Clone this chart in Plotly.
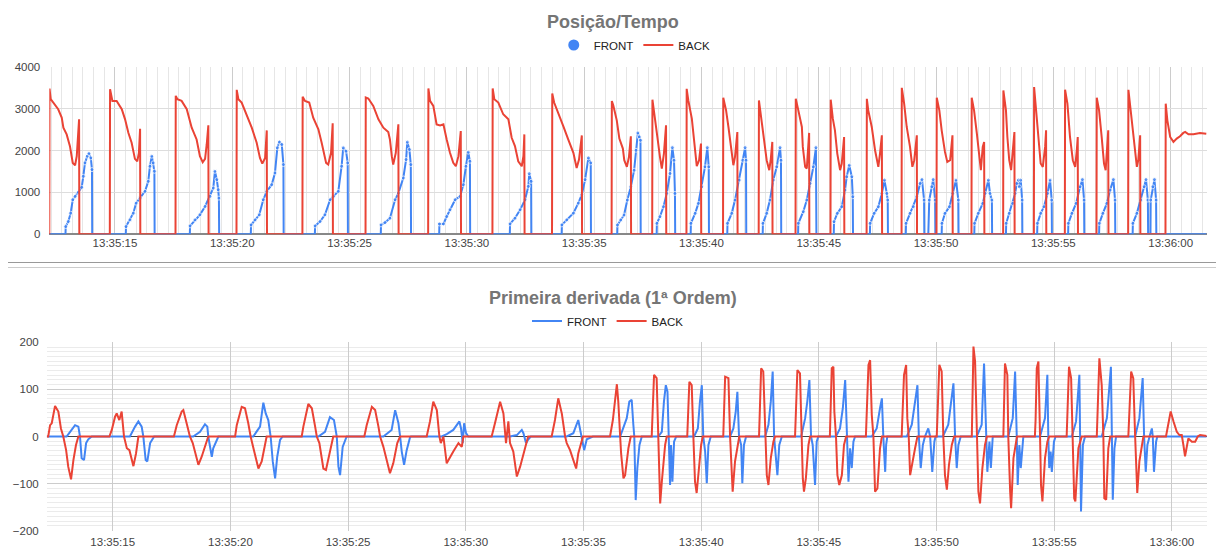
import plotly.graph_objects as go
import pandas as pd

# ---------------- data (seconds after 13:35:00, value) ----------------
BACK_POS = [
    (12.20, 0), (12.21, 3480), (12.26, 3224), (12.37, 3144), (12.58, 2984), (12.73, 2784), (12.80, 2544), (12.94, 2384), (13.08, 2104), (13.20, 1704), (13.30, 1648), (13.37, 1864), (13.41, 2264), (13.47, 2744), (13.48, 0),
    (14.78, 0), (14.79, 3464), (14.89, 3184), (15.07, 3184), (15.29, 2984), (15.43, 2744), (15.57, 2424), (15.71, 2184), (15.85, 1800), (15.95, 1744), (16.02, 1944), (16.07, 2520), (16.08, 0),
    (17.58, 0), (17.59, 3304), (17.66, 3224), (17.84, 3184), (18.06, 2984), (18.27, 2544), (18.48, 2264), (18.62, 1864), (18.74, 1720), (18.84, 1800), (18.91, 2144), (18.98, 2600), (18.99, 0),
    (20.18, 0), (20.19, 3448), (20.26, 3224), (20.40, 3144), (20.62, 2824), (20.83, 2544), (21.04, 2184), (21.18, 1824), (21.28, 1688), (21.40, 1824), (21.47, 2480), (21.48, 0),
    (22.99, 0), (23.00, 3280), (23.10, 3184), (23.28, 3144), (23.45, 2784), (23.67, 2504), (23.81, 2184), (24.00, 1704), (24.09, 1664), (24.21, 1944), (24.28, 2648), (24.29, 0),
    (25.68, 0), (25.69, 3264), (25.80, 3240), (26.01, 3064), (26.23, 2744), (26.44, 2544), (26.65, 2440), (26.72, 2264), (26.80, 1864), (26.86, 1664), (26.97, 1944), (27.01, 2184), (27.08, 2624), (27.09, 0),
    (28.35, 0), (28.36, 3480), (28.43, 3184), (28.57, 3064), (28.71, 2624), (28.86, 2600), (29.00, 2624), (29.14, 2264), (29.28, 1944), (29.42, 1704), (29.53, 1624), (29.64, 1864), (29.74, 2464), (29.75, 0),
    (31.09, 0), (31.10, 3480), (31.17, 3224), (31.34, 3144), (31.55, 2864), (31.77, 2744), (31.91, 2304), (32.05, 2104), (32.19, 1744), (32.34, 1624), (32.41, 1864), (32.45, 2384), (32.46, 0),
    (33.63, 0), (33.64, 3360), (33.72, 3144), (33.90, 2904), (34.11, 2584), (34.32, 2264), (34.54, 1944), (34.68, 1584), (34.78, 1784), (34.90, 2360), (34.91, 0),
    (36.17, 0), (36.18, 3180), (36.24, 3077), (36.39, 2720), (36.50, 2284), (36.65, 2046), (36.71, 1768), (36.82, 1610), (36.91, 1848), (36.99, 2339), (37.00, 0),
    (37.90, 0), (37.91, 3212), (38.02, 2799), (38.12, 2323), (38.23, 1848), (38.31, 1570), (38.40, 1927), (38.49, 2601), (38.50, 0),
    (39.36, 0), (39.37, 3473), (39.44, 3196), (39.59, 2760), (39.68, 2244), (39.80, 1626), (39.90, 1768), (39.98, 2165), (39.99, 0),
    (40.92, 0), (40.93, 3259), (41.05, 2958), (41.15, 2561), (41.26, 2086), (41.36, 1649), (41.43, 1848), (41.53, 2442), (41.54, 0),
    (42.44, 0), (42.45, 3196), (42.54, 2799), (42.67, 2244), (42.78, 1768), (42.89, 1530), (42.95, 1768), (43.02, 2205), (43.03, 0),
    (44.01, 0), (44.02, 3235), (44.13, 2958), (44.28, 2561), (44.32, 2086), (44.42, 1610), (44.49, 1570), (44.56, 2244), (44.59, 2419), (44.60, 0),
    (45.50, 0), (45.51, 3212), (45.60, 2760), (45.69, 2482), (45.79, 1927), (45.91, 1530), (45.98, 1689), (46.08, 2323), (46.09, 0),
    (47.04, 0), (47.05, 3235), (47.11, 2958), (47.26, 2561), (47.40, 2006), (47.47, 1768), (47.54, 1610), (47.61, 1927), (47.69, 2363), (47.70, 0),
    (48.53, 0), (48.54, 3497), (48.64, 3117), (48.75, 2561), (48.89, 2086), (48.99, 1610), (49.07, 1768), (49.18, 2363), (49.19, 0),
    (50.02, 0), (50.03, 3259), (50.14, 2958), (50.24, 2482), (50.38, 1967), (50.48, 1729), (50.60, 1768), (50.70, 2363), (50.71, 0),
    (51.51, 0), (51.52, 3259), (51.62, 2958), (51.74, 2403), (51.83, 1848), (51.91, 1530), (51.99, 2086), (52.05, 2205), (52.06, 0),
    (52.86, 0), (52.87, 3434), (52.98, 2958), (53.04, 2323), (53.12, 1768), (53.20, 1530), (53.27, 1927), (53.34, 2442), (53.35, 0),
    (54.17, 0), (54.18, 3513), (54.26, 2958), (54.36, 2244), (54.46, 1689), (54.55, 1610), (54.65, 2086), (54.69, 2482), (54.70, 0),
    (55.49, 0), (55.50, 3450), (55.60, 3117), (55.71, 2323), (55.83, 1768), (55.93, 1610), (56.00, 2006), (56.04, 2323), (56.05, 0),
    (56.84, 0), (56.85, 3259), (56.95, 2958), (57.06, 2323), (57.16, 1689), (57.23, 1530), (57.30, 2086), (57.34, 2482), (57.35, 0),
    (58.19, 0), (58.20, 3450), (58.30, 2958), (58.41, 2482), (58.48, 2006), (58.56, 1610), (58.62, 1768), (58.70, 2363), (58.71, 0),
    (59.78, 0), (59.79, 3117), (59.86, 2720), (59.98, 2323), (60.12, 2205), (60.26, 2284), (60.40, 2339), (60.54, 2419), (60.62, 2442), (60.76, 2387), (60.97, 2387), (61.25, 2419), (61.47, 2403), (61.52, 2400),
]

FRONT_POS = [
    (12.20, 0), (12.89, 0), (12.90, 184), (13.01, 304), (13.11, 504), (13.20, 824), (13.30, 904), (13.44, 1000), (13.58, 1120), (13.65, 1384), (13.72, 1704), (13.82, 1864), (13.89, 1928), (13.97, 1824), (14.02, 1544), (14.03, 0),
    (15.46, 0), (15.47, 184), (15.64, 344), (15.78, 504), (15.90, 744), (16.07, 864), (16.28, 1024), (16.42, 1264), (16.49, 1624), (16.57, 1864), (16.63, 1704), (16.68, 1504), (16.69, 0),
    (18.19, 0), (18.20, 200), (18.41, 344), (18.62, 464), (18.84, 664), (19.05, 904), (19.19, 1104), (19.26, 1504), (19.34, 1304), (19.40, 1064), (19.43, 864), (19.44, 0),
    (20.79, 0), (20.80, 224), (20.97, 344), (21.15, 464), (21.32, 824), (21.47, 1024), (21.68, 1184), (21.82, 1464), (21.92, 2064), (22.01, 2200), (22.11, 2144), (22.18, 1664), (22.19, 0),
    (23.52, 0), (23.53, 200), (23.74, 304), (23.95, 464), (24.17, 824), (24.31, 904), (24.52, 1024), (24.66, 1624), (24.73, 2064), (24.85, 1984), (24.92, 1704), (24.93, 0),
    (26.33, 0), (26.34, 224), (26.51, 280), (26.72, 384), (26.94, 824), (27.08, 984), (27.29, 1344), (27.41, 1784), (27.46, 2200), (27.55, 2024), (27.61, 1664), (27.62, 0),
    (28.82, 0), (28.83, 248), (29.00, 248), (29.14, 424), (29.28, 584), (29.50, 824), (29.71, 904), (29.85, 1184), (29.96, 1624), (30.06, 1960), (30.13, 1744), (30.14, 0),
    (31.83, 0), (31.84, 248), (32.05, 384), (32.27, 584), (32.48, 824), (32.62, 1144), (32.66, 1448), (32.74, 1264), (32.75, 0),
    (34.04, 0), (34.05, 224), (34.26, 344), (34.54, 504), (34.75, 744), (34.90, 944), (35.04, 1304), (35.18, 1824), (35.28, 1704), (35.29, 0),
    (36.41, 0), (36.42, 222), (36.56, 341), (36.70, 460), (36.84, 817), (36.99, 1134), (37.13, 1530), (37.21, 2006), (37.29, 2419), (37.35, 2323), (37.40, 2244), (37.41, 0),
    (38.09, 0), (38.10, 262), (38.23, 420), (38.38, 658), (38.52, 975), (38.66, 1451), (38.76, 2070), (38.83, 1768), (38.87, 975), (38.88, 0),
    (39.54, 0), (39.55, 262), (39.73, 500), (39.87, 737), (40.01, 1134), (40.15, 1610), (40.25, 2070), (40.31, 1610), (40.32, 0),
    (41.10, 0), (41.11, 262), (41.29, 500), (41.43, 817), (41.61, 1293), (41.76, 1768), (41.86, 2070), (41.90, 1768), (41.91, 0),
    (42.61, 0), (42.62, 262), (42.78, 500), (42.92, 817), (43.06, 1293), (43.21, 1610), (43.35, 2070), (43.39, 1768), (43.40, 0),
    (44.12, 0), (44.13, 262), (44.34, 539), (44.49, 817), (44.63, 1213), (44.77, 1610), (44.88, 2070), (44.90, 0),
    (45.64, 0), (45.65, 301), (45.79, 500), (45.98, 658), (46.12, 1055), (46.19, 1372), (46.30, 1649), (46.41, 1372), (46.45, 896), (46.46, 0),
    (47.18, 0), (47.19, 262), (47.36, 500), (47.54, 658), (47.69, 975), (47.80, 1293), (47.90, 975), (47.94, 817), (47.95, 0),
    (48.71, 0), (48.72, 262), (48.89, 500), (49.03, 658), (49.18, 896), (49.32, 1213), (49.40, 1308), (49.49, 817), (49.50, 0),
    (49.67, 0), (49.71, 817), (49.82, 1134), (49.88, 1308), (49.96, 817), (49.97, 0),
    (50.24, 0), (50.25, 262), (50.38, 500), (50.57, 658), (50.71, 975), (50.85, 1293), (50.95, 817), (50.96, 0),
    (51.63, 0), (51.64, 262), (51.80, 500), (51.99, 737), (52.09, 975), (52.23, 1293), (52.30, 975), (52.38, 817), (52.39, 0),
    (52.98, 0), (52.99, 262), (53.12, 500), (53.27, 737), (53.37, 975), (53.44, 1213), (53.51, 1293), (53.55, 1134), (53.61, 1293), (53.67, 817), (53.68, 0),
    (54.31, 0), (54.32, 262), (54.46, 500), (54.60, 658), (54.75, 975), (54.86, 1293), (54.93, 817), (54.94, 0),
    (55.63, 0), (55.64, 262), (55.79, 500), (55.97, 737), (56.14, 1134), (56.24, 1308), (56.31, 817), (56.32, 0),
    (56.95, 0), (56.96, 262), (57.11, 500), (57.28, 737), (57.42, 1055), (57.56, 1308), (57.63, 817), (57.64, 0),
    (58.38, 0), (58.39, 262), (58.56, 500), (58.73, 817), (58.87, 1134), (58.95, 1308), (59.03, 817), (59.04, 0),
    (59.14, 0), (59.15, 817), (59.24, 1134), (59.31, 1308), (59.38, 817), (59.39, 0),
    (61.52, 0),
]

BACK_DER = [
    (12.20, 0), (12.26, 0), (12.34, 24), (12.41, 28), (12.55, 65), (12.69, 53), (12.80, 17), (12.90, 0), (13.02, -29), (13.11, -64), (13.23, -91), (13.33, -50), (13.44, -18), (13.54, 0),
    (14.86, 0), (14.96, 14), (15.10, 42), (15.17, 49), (15.28, 35), (15.38, 53), (15.48, 0), (15.60, -25), (15.71, -29), (15.88, -63), (15.99, -36), (16.09, 0),
    (17.60, 0), (17.72, 24), (17.93, 53), (18.00, 56), (18.14, 28), (18.28, 0), (18.40, -14), (18.64, -60), (18.78, -43), (18.99, -7), (19.06, 0),
    (20.20, 0), (20.27, 24), (20.48, 63), (20.62, 60), (20.76, 28), (20.86, 0), (21.00, -29), (21.19, -68), (21.33, -53), (21.47, -22), (21.54, 0),
    (23.03, 0), (23.10, 21), (23.31, 69), (23.46, 60), (23.60, 21), (23.67, 0), (23.78, -14), (23.95, -68), (24.06, -71), (24.23, -29), (24.37, 0),
    (25.69, 0), (25.79, 24), (26.01, 63), (26.15, 56), (26.29, 21), (26.36, 0), (26.50, -22), (26.78, -78), (26.92, -57), (27.09, -14), (27.21, 0),
    (28.34, 0), (28.48, 32), (28.62, 74), (28.77, 56), (28.88, 0), (28.94, -14), (29.05, 0), (29.19, -57), (29.33, -43), (29.47, -32), (29.69, -14), (29.83, -22), (29.90, 0),
    (31.10, 0), (31.24, 28), (31.46, 74), (31.60, 49), (31.71, -14), (31.81, 32), (31.88, -14), (32.02, -32), (32.17, -85), (32.31, -64), (32.45, -36), (32.59, -7), (32.65, 0),
    (33.65, 0), (33.79, 35), (33.93, 81), (34.08, 49), (34.22, 0), (34.29, -14), (34.43, -29), (34.57, -50), (34.69, -68), (34.78, -36), (34.93, -11), (34.98, 0),
    (36.13, 0), (36.25, 35), (36.42, 111), (36.48, 74), (36.56, 0), (36.60, -36), (36.70, -89), (36.77, -82), (36.91, -25), (37.01, 0),
    (37.90, 0), (38.00, 131), (38.11, 124), (38.18, 0), (38.26, -142), (38.33, -96), (38.47, -18), (38.54, 0),
    (39.41, 0), (39.50, 116), (39.60, 109), (39.67, 0), (39.74, -96), (39.81, -120), (39.88, -82), (40.00, -18), (40.07, 0),
    (40.94, 0), (41.02, 127), (41.16, 124), (41.23, 0), (41.30, -96), (41.34, -117), (41.44, -53), (41.54, -18), (41.62, 0),
    (42.46, 0), (42.55, 145), (42.64, 138), (42.72, 0), (42.79, -82), (42.86, -103), (42.96, -46), (43.07, -11), (43.14, 0),
    (43.99, 0), (44.09, 141), (44.20, 134), (44.28, 0), (44.32, -89), (44.37, -117), (44.45, -89), (44.56, -18), (44.63, 0),
    (45.47, 0), (45.55, 145), (45.62, 148), (45.66, 53), (45.73, 0), (45.79, -82), (45.87, -103), (45.98, -82), (46.07, -18), (46.16, 0),
    (47.00, 0), (47.11, 152), (47.18, 162), (47.25, 46), (47.32, 0), (47.39, -117), (47.49, -110), (47.60, -25), (47.68, 0),
    (48.52, 0), (48.62, 131), (48.71, 152), (48.76, 39), (48.82, 0), (48.88, -82), (48.95, -60), (49.09, -25), (49.19, 0),
    (50.01, 0), (50.12, 152), (50.22, 138), (50.29, 0), (50.36, -82), (50.44, -113), (50.53, -60), (50.65, -18), (50.75, 0),
    (51.50, 0), (51.57, 191), (51.64, 159), (51.71, 0), (51.78, -117), (51.85, -142), (51.95, -67), (52.06, -18), (52.14, 0),
    (52.84, 0), (52.91, 155), (53.01, 131), (53.05, 0), (53.13, -117), (53.17, -152), (53.27, -46), (53.38, -11), (53.42, 0),
    (54.18, 0), (54.21, 35), (54.26, 145), (54.33, 159), (54.40, 0), (54.44, -103), (54.50, -138), (54.61, -46), (54.71, -11), (54.79, 0),
    (55.53, 0), (55.63, 148), (55.72, 124), (55.79, 0), (55.85, -131), (55.90, -138), (56.03, -25), (56.17, 0),
    (56.81, 0), (56.92, 166), (57.02, 109), (57.09, 0), (57.13, -131), (57.21, -134), (57.30, -25), (57.38, 0),
    (58.15, 0), (58.27, 138), (58.36, 124), (58.44, 0), (58.48, -82), (58.53, -120), (58.62, -53), (58.72, -18), (58.79, 0),
    (59.75, 0), (59.85, 28), (59.95, 53), (60.07, 32), (60.21, 10), (60.32, 3), (60.42, 3), (60.49, -18), (60.56, -42), (60.70, -4), (60.85, -11), (60.99, -11), (61.10, 0), (61.20, 3), (61.48, 1),
]

FRONT_DER = [
    (12.20, 0), (13.04, 0), (13.19, 10), (13.40, 24), (13.54, 21), (13.61, 0), (13.68, -46), (13.78, -50), (13.87, -14), (13.96, -6), (14.11, 0),
    (15.73, 0), (15.95, 21), (16.09, 32), (16.23, 21), (16.30, 0), (16.40, -50), (16.47, -53), (16.59, -14), (16.73, -2), (16.76, 0),
    (18.42, 0), (18.71, 10), (18.92, 26), (19.02, 21), (19.06, 0), (19.21, -43), (19.27, -25), (19.42, -7), (19.49, 0),
    (20.97, 0), (21.26, 21), (21.40, 72), (21.50, 49), (21.61, 35), (21.71, 0), (21.80, -53), (21.90, -89), (21.99, -43), (22.11, -7), (22.22, 0),
    (23.74, 0), (24.02, 10), (24.23, 41), (24.40, 35), (24.52, 0), (24.59, -64), (24.66, -82), (24.77, -22), (24.94, 0),
    (26.50, 0), (26.85, 14), (27.00, 56), (27.14, 28), (27.21, 0), (27.28, -32), (27.38, -60), (27.49, -29), (27.63, -2), (27.67, 0),
    (28.98, 0), (29.19, 5), (29.47, 14), (29.73, 32), (29.80, 17), (29.87, -14), (29.93, 28), (30.01, 7), (30.11, 0),
    (31.88, 0), (32.17, 3), (32.38, 14), (32.45, 7), (32.56, -14), (32.66, -6), (32.76, 0),
    (34.29, 0), (34.57, 7), (34.78, 35), (34.93, 0), (35.03, -29), (35.14, -6), (35.31, -3), (35.40, 0),
    (36.56, 0), (36.84, 39), (36.95, 74), (37.05, 78), (37.12, 25), (37.16, 0), (37.22, -135), (37.29, -67), (37.38, -18), (37.48, 0),
    (38.18, 0), (38.33, 10), (38.42, 74), (38.50, 109), (38.57, 95), (38.61, 0), (38.68, -103), (38.72, -18), (38.78, -96), (38.85, -11), (38.94, 0),
    (39.70, 0), (39.86, 17), (39.95, 74), (40.03, 109), (40.09, 0), (40.17, -32), (40.24, -99), (40.31, -18), (40.41, 0),
    (41.23, 0), (41.37, 17), (41.47, 53), (41.54, 95), (41.61, 0), (41.70, -18), (41.75, -99), (41.82, -18), (41.91, 0),
    (42.72, 0), (42.86, 25), (42.96, 74), (43.04, 138), (43.10, 0), (43.18, -39), (43.24, -82), (43.32, -18), (43.43, 0),
    (44.25, 0), (44.42, 39), (44.51, 74), (44.60, 120), (44.67, 0), (44.74, -18), (44.84, -103), (44.91, -11), (44.98, 0),
    (45.73, 0), (45.90, 17), (46.02, 60), (46.12, 120), (46.19, 0), (46.26, -96), (46.33, -25), (46.40, -67), (46.47, -11), (46.54, 0),
    (47.25, 0), (47.46, 17), (47.60, 60), (47.68, 81), (47.74, 0), (47.82, -75), (47.86, -18), (47.91, 0),
    (48.74, 0), (48.95, 25), (49.09, 74), (49.19, 109), (49.25, 0), (49.33, -67), (49.42, -18), (49.51, 0), (49.65, 17), (49.73, 0), (49.82, -75), (49.91, -11), (49.96, 0),
    (50.27, 0), (50.50, 25), (50.61, 67), (50.72, 113), (50.79, 0), (50.86, -67), (50.93, -18), (51.03, 0),
    (51.71, 0), (51.92, 25), (52.02, 155), (52.11, 0), (52.16, -75), (52.25, -11), (52.31, -67), (52.39, 0),
    (53.05, 0), (53.24, 39), (53.34, 138), (53.41, 0), (53.45, -103), (53.52, -18), (53.58, -67), (53.69, 0),
    (54.40, 0), (54.61, 39), (54.71, 131), (54.75, 0), (54.79, -67), (54.85, -32), (54.90, -75), (54.99, -11), (55.06, 0),
    (55.75, 0), (55.93, 32), (56.07, 131), (56.11, 0), (56.14, -159), (56.22, -18), (56.31, 0),
    (57.02, 0), (57.24, 39), (57.41, 148), (57.45, 0), (57.49, -134), (57.56, -25), (57.63, 0),
    (58.44, 0), (58.62, 39), (58.76, 124), (58.82, 0), (58.89, -75), (58.96, -18), (59.07, 3), (59.15, 17), (59.19, 0), (59.24, -75), (59.33, -11), (59.38, 0),
    (61.48, 0),
]

TICK_SECONDS = [15, 20, 25, 30, 35, 40, 45, 50, 55, 60]
TICK_LABELS = ["13:35:15", "13:35:20", "13:35:25", "13:35:30", "13:35:35",
               "13:35:40", "13:35:45", "13:35:50", "13:35:55", "13:36:00"]
POS_TICKS = [0, 1000, 2000, 3000, 4000]
DER_TICKS = [-200, -100, 0, 100, 200]

TITLE_TOP = "Posição/Tempo"
TITLE_BOTTOM = "Primeira derivada (1ª Ordem)"

# ---------------- helpers ----------------
BASE = pd.Timestamp("2024-01-01 13:35:00")


def to_time(seconds):
    return [BASE + pd.Timedelta(seconds=float(s)) for s in seconds]


def split(pairs):
    t, v = zip(*pairs)
    return to_time(t), list(v)


BLUE = "#4285f4"
RED = "#ea4335"
FONT = "Arial, Liberation Sans, sans-serif"
TICKCOL = "#444444"

bp_t, bp_v = split(BACK_POS)
fp_t, fp_v = split(FRONT_POS)
bd_t, bd_v = split(BACK_DER)
fd_t, fd_v = split(FRONT_DER)

fig = go.Figure()

# top chart
fig.add_trace(go.Scatter(
    x=fp_t, y=fp_v, mode="lines+markers", name="FRONT", showlegend=False,
    line=dict(color=BLUE, width=2),
    marker=dict(color=BLUE, size=[4 if v > 0 else 0 for v in fp_v]),
    xaxis="x", yaxis="y", cliponaxis=False))
fig.add_trace(go.Scatter(
    x=[None], y=[None], mode="markers", name="FRONT", legend="legend",
    marker=dict(color=BLUE, size=11), xaxis="x", yaxis="y"))
fig.add_trace(go.Scatter(
    x=bp_t, y=bp_v, mode="lines", name="BACK", legend="legend",
    line=dict(color=RED, width=2), xaxis="x", yaxis="y", cliponaxis=False))

# bottom chart
fig.add_trace(go.Scatter(
    x=fd_t, y=fd_v, mode="lines", name="FRONT", legend="legend2",
    line=dict(color=BLUE, width=2), xaxis="x2", yaxis="y2"))
fig.add_trace(go.Scatter(
    x=bd_t, y=bd_v, mode="lines", name="BACK", legend="legend2",
    line=dict(color=RED, width=2), xaxis="x2", yaxis="y2"))

tickvals = to_time(TICK_SECONDS)

xcommon = dict(
    type="date", tickmode="array", tickvals=tickvals, ticktext=TICK_LABELS,
    tickfont=dict(family=FONT, size=11.5, color=TICKCOL),
    ticks="", showline=False, zeroline=False, automargin=False,
)

fig.update_layout(
    width=1216, height=550,
    margin=dict(l=0, r=0, t=0, b=0, pad=0),
    paper_bgcolor="white", plot_bgcolor="white",
    font=dict(family=FONT),
    xaxis=dict(
        **xcommon,
        domain=[0.04054, 0.99260], anchor="y",
        range=to_time([12.20, 61.55]),
        showgrid=True, gridcolor="#cccccc", gridwidth=1,
        minor=dict(tickmode="linear", tick0=to_time([15])[0], dtick=5000 / 11,
                   showgrid=True, gridcolor="#e6e6e6", gridwidth=1, ticklen=0),
        ticklabelstandoff=0,
    ),
    yaxis=dict(
        domain=[0.57400, 0.87873], anchor="x",
        range=[0, 4000], tickmode="array", tickvals=POS_TICKS,
        tickfont=dict(family=FONT, size=11.5, color=TICKCOL),
        showgrid=True, gridcolor="#dddddd", zeroline=True, zerolinecolor="#888888",
        ticks="", showline=False, ticklabelstandoff=8, automargin=False,
    ),
    xaxis2=dict(
        **xcommon,
        domain=[0.03840, 0.99235], anchor="y2",
        range=to_time([12.195, 61.48]),
        showgrid=True, gridcolor="#cccccc", gridwidth=1,
        ticklabelstandoff=3,
    ),
    yaxis2=dict(
        domain=[0.03509, 0.37764], anchor="x2",
        range=[-200, 200], tickmode="array", tickvals=DER_TICKS,
        tickfont=dict(family=FONT, size=11.5, color=TICKCOL),
        showgrid=True, gridcolor="#cccccc",
        minor=dict(dtick=10, showgrid=True, gridcolor="#ebebeb", ticklen=0),
        zeroline=True, zerolinecolor="#444444", zerolinewidth=1,
        ticks="", showline=False, ticklabelstandoff=7, automargin=False,
    ),
    legend=dict(
        orientation="h", x=0.522, xanchor="center", y=1 - 45 / 550, yanchor="middle",
        font=dict(family=FONT, size=11.5, color="#222222"),
        bgcolor="rgba(0,0,0,0)", itemwidth=30, tracegroupgap=0,
    ),
    legend2=dict(
        orientation="h", x=0.50, xanchor="center", y=1 - 321 / 550, yanchor="middle",
        font=dict(family=FONT, size=11.5, color="#222222"),
        bgcolor="rgba(0,0,0,0)", itemwidth=30, tracegroupgap=0,
    ),
    annotations=[
        dict(text=TITLE_TOP, x=613 / 1216, y=1 - 22 / 550, xref="paper", yref="paper",
             xanchor="center", yanchor="middle", showarrow=False,
             font=dict(family=FONT, size=18, color="#757575", weight="bold")),
        dict(text=TITLE_BOTTOM, x=613 / 1216, y=1 - 298 / 550, xref="paper", yref="paper",
             xanchor="center", yanchor="middle", showarrow=False,
             font=dict(family=FONT, size=18, color="#757575", weight="bold")),
    ],
    shapes=[
        dict(type="line", xref="paper", yref="paper", x0=8 / 1216, x1=1.0,
             y0=1 - 262.5 / 550, y1=1 - 262.5 / 550, line=dict(color="#999999", width=1)),
        dict(type="line", xref="paper", yref="paper", x0=8 / 1216, x1=1.0,
             y0=1 - 267.5 / 550, y1=1 - 267.5 / 550, line=dict(color="#cccccc", width=1)),
    ],
)

fig.write_html("out.html")
